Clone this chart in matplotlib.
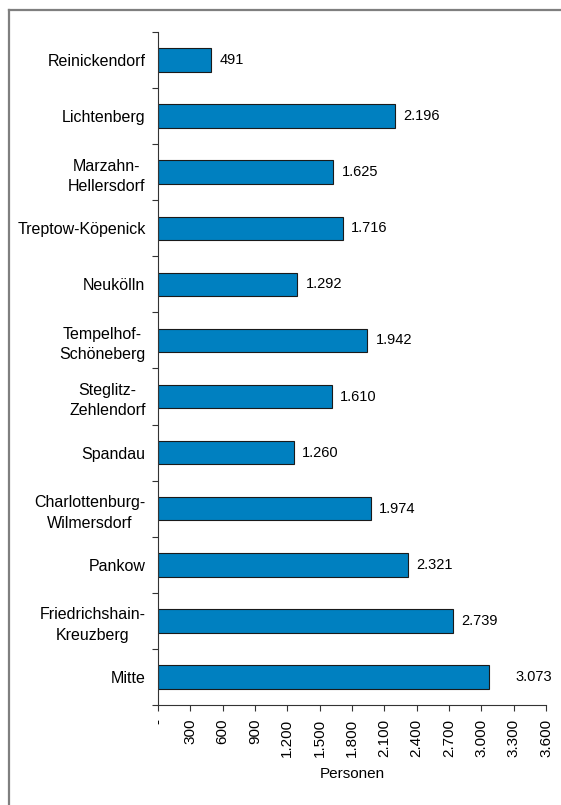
import matplotlib
matplotlib.use("Agg")
import matplotlib.pyplot as plt
from matplotlib.lines import Line2D
from matplotlib.ticker import FixedLocator, FuncFormatter

plt.rcParams['font.family'] = ['Liberation Sans', 'DejaVu Sans']

districts = [
    "Reinickendorf", "Lichtenberg", "Marzahn-\nHellersdorf", "Treptow-Köpenick",
    "Neukölln", "Tempelhof-\nSchöneberg", "Steglitz-\nZehlendorf", "Spandau",
    "Charlottenburg-\nWilmersdorf", "Pankow", "Friedrichshain-\nKreuzberg", "Mitte",
]
persons = [491, 2196, 1625, 1716, 1292, 1942, 1610, 1260, 1974, 2321, 2739, 3073]
x_ticks = [0, 300, 600, 900, 1200, 1500, 1800, 2100, 2400, 2700, 3000, 3300, 3600]


def de_num(v):
    if v == 0:
        return "-"
    return f"{int(round(v)):,}".replace(",", ".")


W, H = 561, 805
fig = plt.figure(figsize=(W / 100, H / 100), dpi=100)

# outer frame: top and left edges
fx, fy = 8.5 / W, 1 - 10 / H
fig.add_artist(Line2D([fx, 1.05], [fy, fy], transform=fig.transFigure,
                      color="#7f7f7f", linewidth=1.6))
fig.add_artist(Line2D([fx, fx], [-0.05, fy], transform=fig.transFigure,
                      color="#7f7f7f", linewidth=1.6))

ax = fig.add_axes([158 / W, 1 - 705 / H, (546 - 158) / W, (705 - 32) / H])

n = len(districts)
ypos = list(range(n - 1, -1, -1))
ax.barh(ypos, persons, height=0.42, color="#0080C0", edgecolor="#1a1a1a", linewidth=0.8)

for i, (y, v) in enumerate(zip(ypos, persons)):
    off = 19 if i == n - 1 else 6
    ax.annotate(de_num(v), (v, y), xytext=(off, 0), textcoords="offset points",
                va="center", ha="left", fontsize=10.5)

ax.set_xlim(0, 3600)
ax.set_ylim(-0.5, n - 0.5)
ax.xaxis.set_major_locator(FixedLocator(x_ticks))
ax.xaxis.set_major_formatter(FuncFormatter(lambda v, p: de_num(v)))
ax.tick_params(axis="x", rotation=90, labelsize=11, length=4, width=0.8, color="#333333", pad=6)

ax.set_yticks(ypos)
ax.set_yticklabels(districts, fontsize=11.5, multialignment="center", linespacing=1.45)
ax.tick_params(axis="y", which="major", length=0, pad=9)
ax.set_yticks([k + 0.5 for k in range(-1, n)], minor=True)
ax.tick_params(axis="y", which="minor", length=4.5, width=0.8, color="#333333")

for side in ("top", "right"):
    ax.spines[side].set_visible(False)
for side in ("left", "bottom"):
    ax.spines[side].set_color("#333333")
    ax.spines[side].set_linewidth(0.8)

ax.set_xlabel("Personen", fontsize=11, labelpad=7)

fig.savefig("out.png", dpi=100)
